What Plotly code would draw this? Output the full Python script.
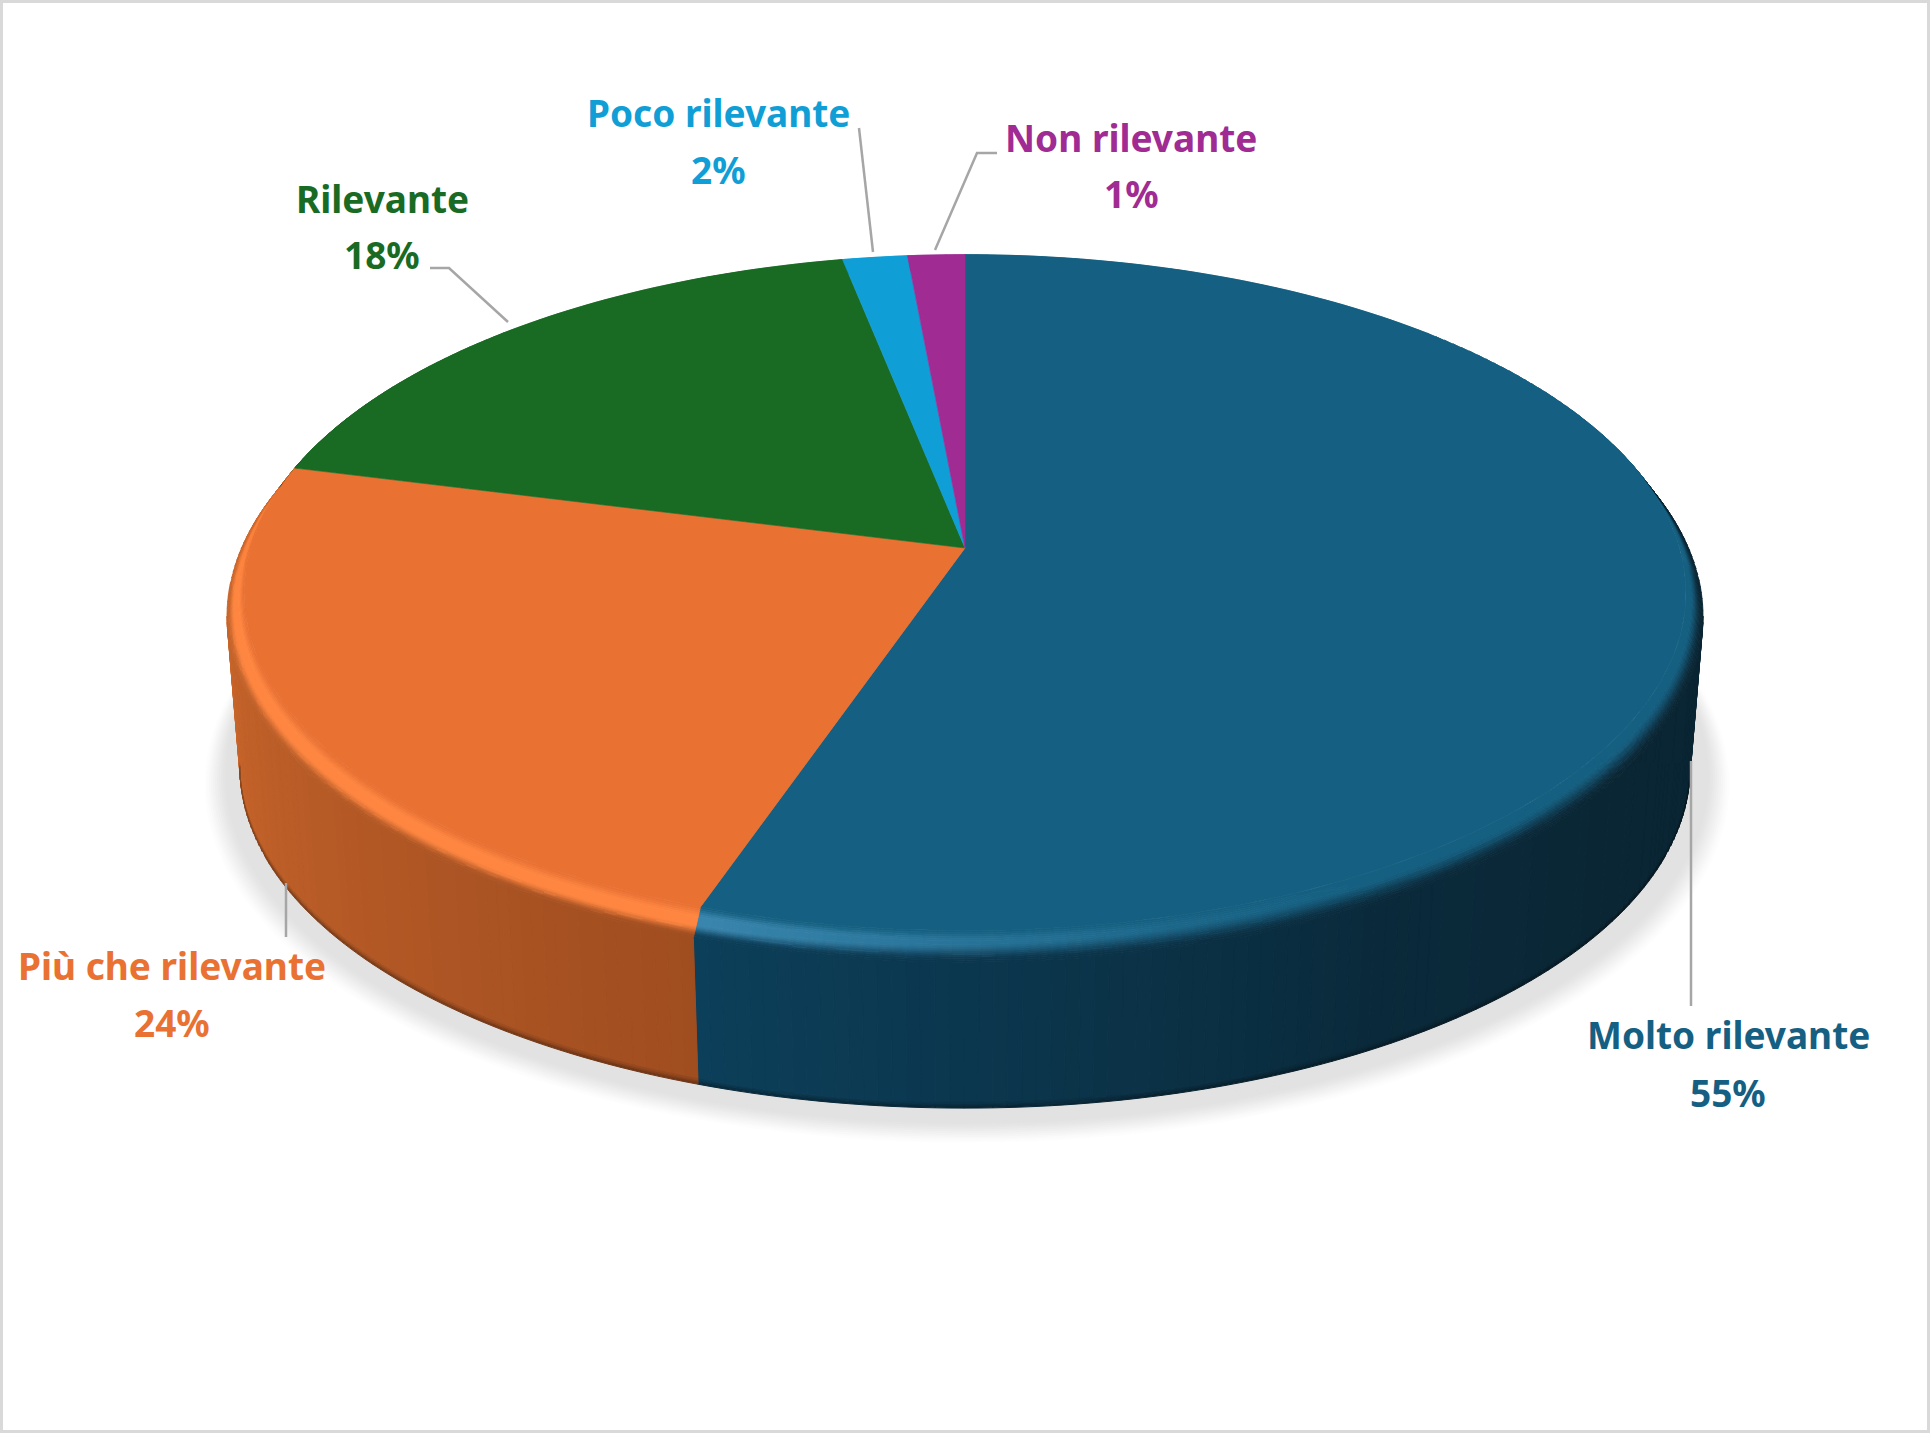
import math
import plotly.graph_objects as go

# ---- data ----
categories = ["Molto rilevante", "Più che rilevante", "Rilevante", "Poco rilevante", "Non rilevante"]
values = [55.25, 23.75, 17.9, 1.65, 1.45]
pct_labels = ["55%", "24%", "18%", "2%", "1%"]

# ---- styles ----
face_colors = ["#156082", "#E97132", "#196B24", "#0F9ED5", "#A02B93"]
rim_light = ["#3A86AE", "#FF8640", "#196B24", "#0F9ED5", "#A02B93"]
FONT = "Noto Sans"
FONT_SIZE = 37
LEADER = "#A6A6A6"
BORDER = "#D9D9D9"
W, H = 1930, 1433

# ---- layout of the projected disc (pixels) ----
CX, CY = 965.0, 548.0
RAD, C_P, A_P = 733.0, -0.1354, 266.4
R0 = 0.975
BEV, DEPTH = 18.0, 148.0
K_D, OFF_D = 0.000135, 1.176
WALL_RIGHT, WALL_LEFT = 97.8, 262.2   # angles where the side wall meets the silhouette

label_pos = [
    ((1728, 1034), (1728, 1092)),
    ((172, 965), (172, 1022)),
    ((382, 198), (382, 254)),
    ((718, 112), (718, 169)),
    ((1131, 137), (1131, 193)),
]
leaders = [
    [(1691, 761), (1691, 1006)],
    [(286, 883), (286, 937)],
    [(430, 268), (449, 268), (508, 322)],
    [(859, 128), (873, 252)],
    [(997, 153), (977, 153), (935, 250)],
]


def proj(deg, r, d=0.0):
    th = math.radians(deg)
    u, v = math.sin(th) * r, -math.cos(th) * r
    w = 1 + C_P * v
    x0 = RAD * u / w
    y0 = (A_P * v) / w
    s = 1 - K_D * d
    return CX + x0 * s, CY + (y0 + (CY / w - CY)) * s + OFF_D * d


def hex2rgb(c):
    c = c.lstrip("#")
    return tuple(int(c[i:i + 2], 16) for i in (0, 2, 4))


def mix(a, b, t):
    t = max(0.0, min(1.0, t))
    return tuple(a[i] + (b[i] - a[i]) * t for i in range(3))


def smooth(t):
    t = max(0.0, min(1.0, t))
    return t * t * (3 - 2 * t)


def key(c):
    return "#%02x%02x%02x" % tuple(int(min(255, round(x))) for x in c)


class Layer:
    def __init__(self):
        self.b = {}

    def add(self, col, pts):
        xs, ys = self.b.setdefault(key(col), ([], []))
        xs += [p[0] for p in pts] + [pts[0][0], None]
        ys += [p[1] for p in pts] + [pts[0][1], None]

    def traces(self, lw=1.0):
        out = []
        for col, (xs, ys) in self.b.items():
            out.append(go.Scatter(x=xs, y=ys, mode="lines", fill="toself", fillcolor=col,
                                  line=dict(color=col, width=lw), hoverinfo="skip", showlegend=False))
        return out


# wedge angles from values
total = sum(values)
edges = [0.0]
for val in values:
    edges.append(edges[-1] + val / total * 360.0)

blue_near, blue_mid, blue_far = hex2rgb("#0C3F5A"), hex2rgb("#0A2A3B"), hex2rgb("#0A2533")
org_near, org_far = hex2rgb("#A04D20"), hex2rgb("#C8652B")


def wall_color(i, deg):
    if i == 0:
        if deg > 150:
            return mix(blue_mid, blue_near, (deg - 150) / (edges[1] - 150))
        return mix(blue_far, blue_mid, (deg - 120) / 30)
    if i == 1:
        return mix(org_near, org_far, (deg - edges[1]) / (WALL_LEFT - edges[1]))
    return tuple(x * 0.45 for x in hex2rgb(face_colors[i]))


def highlight(i, deg):
    if i == 0:
        return max(0.0, min(1.0, (deg - 150) / (edges[1] - 150))) ** 1.4
    if i == 1:
        return 1.0 if deg < 265 else max(0.5, 1 - (deg - 265) / 40)
    return 0.0


def arange(a, b, step):
    n = max(1, int(math.ceil((b - a) / step)))
    return [a + (b - a) * j / n for j in range(n + 1)]


# shadow
shadow = Layer()
grey = hex2rgb("#E2E2E2")
white = (255, 255, 255)
n_sh = 20
for j in range(n_sh, -1, -1):
    e = 40.0 * j / n_sh
    t = smooth((40.0 - e) / 26.0)
    pts = []
    for deg in range(0, 360, 2):
        x, y = proj(deg, 1 + e / 730.0, DEPTH)
        pts.append((x + 2, y + 0.325 * e))
    shadow.add(mix(white, grey, t), pts)

# walls
wall = Layer()
for i in (0, 1):
    a, b = max(edges[i], WALL_RIGHT), min(edges[i + 1], WALL_LEFT)
    grid = arange(a, b, 1.0)
    for d0, d1, dark in [(BEV, DEPTH - 5, 1.0), (DEPTH - 5, DEPTH - 3, 0.92),
                         (DEPTH - 3, DEPTH - 1.5, 0.82), (DEPTH - 1.5, DEPTH, 0.7)]:
        for t0, t1 in zip(grid, grid[1:]):
            col = tuple(x * dark for x in wall_color(i, 0.5 * (t0 + t1)))
            wall.add(col, [proj(t0, 1, d0), proj(t1, 1, d0), proj(t1, 1, d1), proj(t0, 1, d1)])

# rounded rim between face and wall
rim = Layer()
N_S = 16
for i in range(len(values)):
    base = hex2rgb(face_colors[i])
    hi = hex2rgb(rim_light[i])
    grid = arange(edges[i], edges[i + 1], 1.0)
    for t0, t1 in zip(grid, grid[1:]):
        mid = 0.5 * (t0 + t1)
        wc = wall_color(i, mid)
        amt = highlight(i, mid)
        peak = mix(base, hi, amt)
        start_dark = 0.25 + 0.33 * amt
        for j in range(N_S):
            s0, s1 = j / N_S, (j + 1) / N_S
            sm = 0.5 * (s0 + s1)
            if sm < start_dark:
                col = mix(base, peak, smooth(sm / max(0.32, start_dark * 0.6)))
            else:
                col = mix(peak, wc, smooth((sm - start_dark) / (0.95 - start_dark)))
            r_a, r_b = R0 + (1 - R0) * s0, R0 + (1 - R0) * s1
            d_a, d_b = BEV * s0, BEV * s1
            rim.add(col, [proj(t0, r_a, d_a), proj(t1, r_a, d_a), proj(t1, r_b, d_b), proj(t0, r_b, d_b)])

fig = go.Figure()
fig.add_traces(shadow.traces())
fig.add_traces(wall.traces())
fig.add_traces(rim.traces(0.8))

# top faces
for i, cat in enumerate(categories):
    pts = [proj(0, 0)] + [proj(t, R0) for t in arange(edges[i], edges[i + 1], 1.0)]
    xs = [p[0] for p in pts] + [pts[0][0]]
    ys = [p[1] for p in pts] + [pts[0][1]]
    fig.add_trace(go.Scatter(x=xs, y=ys, mode="lines", fill="toself", fillcolor=face_colors[i],
                             line=dict(color=face_colors[i], width=0.6), name=cat,
                             text=f"{cat} {pct_labels[i]}", hoverinfo="text", showlegend=False))

# leaders
for pts in leaders:
    fig.add_trace(go.Scatter(x=[p[0] for p in pts], y=[p[1] for p in pts], mode="lines",
                             line=dict(color=LEADER, width=2.5), hoverinfo="skip", showlegend=False))

# labels
ann = []
for i, cat in enumerate(categories):
    for txt, (x, y) in zip((cat, pct_labels[i]), label_pos[i]):
        ann.append(dict(x=x, y=y, xref="x", yref="y", text=f"<b>{txt}</b>", showarrow=False,
                        xanchor="center", yanchor="middle",
                        font=dict(family=FONT, size=FONT_SIZE, color=face_colors[i])))

fig.update_layout(
    width=W, height=H, margin=dict(l=0, r=0, t=0, b=0, pad=0),
    paper_bgcolor="white", plot_bgcolor="white", showlegend=False,
    xaxis=dict(range=[0, W], visible=False, fixedrange=True),
    yaxis=dict(range=[H, 0], visible=False, fixedrange=True),
    annotations=ann,
    shapes=[dict(type="rect", xref="x", yref="y", x0=1.5, y0=1.5, x1=W - 1.5, y1=H - 1.5,
                 line=dict(color=BORDER, width=3), layer="above")],
)
fig.write_html("out.html", config=dict(displayModeBar=False),
               post_script="document.body.style.margin='0';document.body.style.overflow='hidden';")
